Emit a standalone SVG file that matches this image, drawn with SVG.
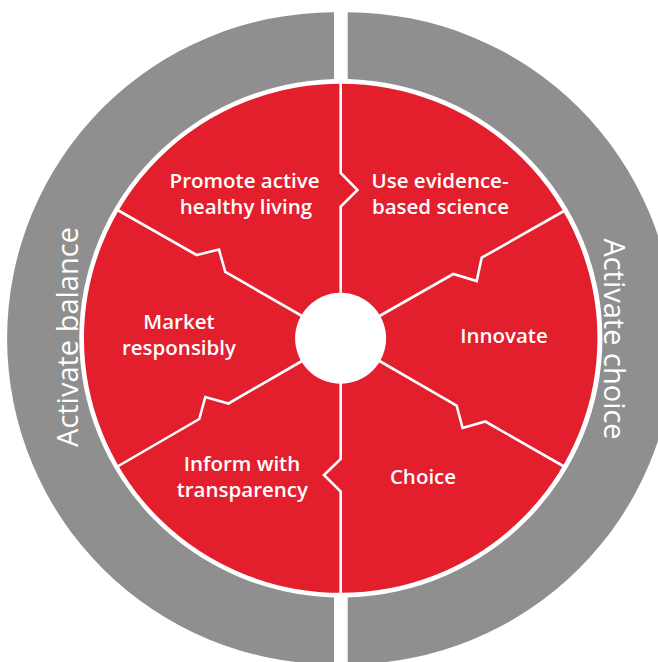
<svg xmlns="http://www.w3.org/2000/svg" width="658" height="662" viewBox="0 0 658 662">
<style>
.ring{fill:#8E8F8E;}
.seg{fill:#E31E2D;stroke:#FFFFFF;stroke-width:2.5;}
.hub{fill:#FFFFFF;}
.spoke{fill:none;stroke:#FFFFFF;stroke-width:2.6;stroke-linejoin:miter;}
.lbl{font-family:"Open Sans","Liberation Sans",sans-serif;font-weight:600;font-size:20.5px;fill:#FFFFFF;text-anchor:middle;}
.rlbl{font-family:"Open Sans","Liberation Sans",sans-serif;font-weight:500;font-size:29px;fill:#FFFFFF;text-anchor:middle;}
</style>
<rect width="658" height="662" fill="#FFFFFF"/>
<g id="ring-balance">
<path class="ring" d="M334,12.3 A327,326 0 0 0 334,664.3 L334,597.5 A262,259.3 0 0 1 334,79.1 Z"/>
<text class="rlbl" transform="translate(78,337) rotate(-90)">Activate balance</text>
</g>
<g id="ring-choice">
<path class="ring" d="M347.7,12.3 A327,326 0 0 1 347.7,664.3 L347.7,597.5 A262,259.3 0 0 0 347.7,79.1 Z"/>
<text class="rlbl" transform="translate(603.5,339) rotate(90)">Activate choice</text>
</g>
<g id="wheel">
<ellipse class="seg" cx="340.7" cy="338.3" rx="258" ry="255.8"/>
</g>
<g id="connectors">
<polyline class="spoke" points="340.7,82 340.7,173 357.5,190 340.7,206.5 340.7,294"/>
<polyline class="spoke" points="340.7,383 340.7,459 324,475 340.7,491.5 340.7,594"/>
<polyline class="spoke" points="117.5,210 196.5,255 219,249.5 225.3,272 302,316"/>
<polyline class="spoke" points="564,211 481.7,257.7 476.7,281 453.3,274 379.5,316"/>
<polyline class="spoke" points="117.5,466.5 199.3,419 205.3,397 228.5,403.5 302,361"/>
<polyline class="spoke" points="379.5,361 456.6,405.5 462.6,428 485.3,421.5 564,466.5"/>
</g>
<g id="hub">
<circle class="hub" cx="340.6" cy="338.3" r="45.5"/>
</g>
<g id="node-promote">
<text class="lbl" x="244.5" y="187.5">Promote active</text>
<text class="lbl" x="246" y="214">healthy living</text>
</g>
<g id="node-evidence">
<text class="lbl" x="440" y="187.5">Use evidence-</text>
<text class="lbl" x="440.5" y="214">based science</text>
</g>
<g id="node-market">
<text class="lbl" x="179" y="328.5">Market</text>
<text class="lbl" x="179" y="355">responsibly</text>
</g>
<g id="node-innovate">
<text class="lbl" x="504" y="343">Innovate</text>
</g>
<g id="node-inform">
<text class="lbl" x="242" y="471">Inform with</text>
<text class="lbl" x="242.3" y="496.5">transparency</text>
</g>
<g id="node-choice">
<text class="lbl" x="423" y="484">Choice</text>
</g>
</svg>
